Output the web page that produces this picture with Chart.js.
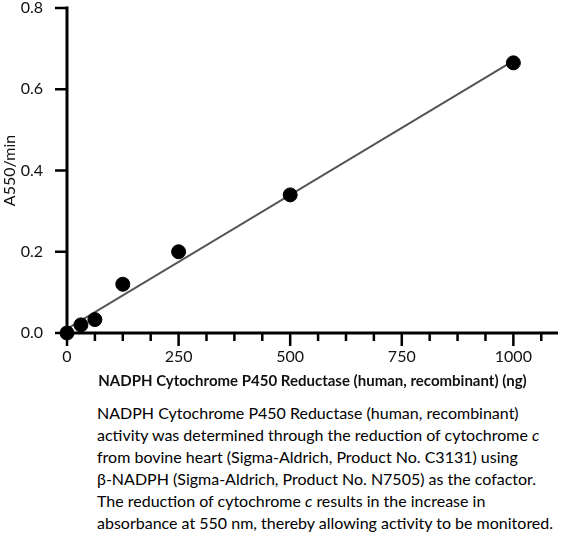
<!DOCTYPE html>
<html>
<head>
<meta charset="utf-8">
<script src="https://cdn.jsdelivr.net/npm/chart.js@4"></script>
<style>
  body { margin: 0; background: #fff; font-family: Lato, "Open Sans", sans-serif; }
  #wrap { position: relative; width: 569px; height: 395px; }
  #caption { margin: 0; padding-left: 97px; padding-top: 7px; font-size: 16px; line-height: 22px; color: #000; white-space: nowrap; }
</style>
</head>
<body>
<div id="wrap"><canvas id="chart"></canvas></div>
<p id="caption">
NADPH Cytochrome P450 Reductase (human, recombinant)<br>
activity was determined through the reduction of cytochrome <i>c</i><br>
from bovine heart (Sigma-Aldrich, Product No. C3131) using<br>
β-NADPH (Sigma-Aldrich, Product No. N7505) as the cofactor.<br>
The reduction of cytochrome <i>c</i> results in the increase in<br>
absorbance at 550 nm, thereby allowing activity to be monitored.
</p>
<script>
// enzyme amount (ng) and measured rate (A550/min)
var amounts = [0, 31.25, 62.5, 125, 250, 500, 1000];
var rates = [0, 0.02, 0.033, 0.12, 0.2, 0.34, 0.665];
// linear fit line, end points
var fitX = [0, 1000];
var fitY = [0.01, 0.67];
var xLabels = [0, 250, 500, 750, 1000];
var xMinorStep = 62.5;
var yLabels = [0, 0.2, 0.4, 0.6, 0.8];

var ctx = document.getElementById('chart').getContext('2d');

// draws axis lines and tick marks (major ticks longer than minor ones)
var axisPlugin = {
	id: 'axes',
	afterDatasetsDraw(chart) {
		var c = chart.ctx, xs = chart.scales.x, ys = chart.scales.y;
		var a = chart.chartArea;
		c.save();
		c.strokeStyle = '#000';
		c.lineWidth = 3;
		c.beginPath();
		c.moveTo(a.left, ys.getPixelForValue(0.8) - 1.5);
		c.lineTo(a.left, a.bottom);
		c.moveTo(a.left, a.bottom);
		c.lineTo(a.right, a.bottom);
		c.stroke();
		c.lineWidth = 2.5;
		c.beginPath();
		xs.ticks.forEach(t => {
			var px = xs.getPixelForValue(t.value);
			var major = xLabels.indexOf(t.value) >= 0;
			c.moveTo(px, a.bottom);
			c.lineTo(px, a.bottom + (major ? 13 : 8));
		});
		ys.ticks.forEach(t => {
			var py = ys.getPixelForValue(t.value);
			c.moveTo(a.left, py);
			c.lineTo(a.left - 12, py);
		});
		c.stroke();
		c.restore();
	}
};

var pts = amounts.map((v, i) => ({x: v, y: rates[i]}));
var fit = fitX.map((v, i) => ({x: v, y: fitY[i]}));

new Chart(ctx, {
	type: 'scatter',
	data: {
		datasets: [{
			data: fit,
			showLine: true,
			borderColor: '#555',
			borderWidth: 2,
			pointRadius: 0,
			order: 2
		}, {
			data: pts,
			backgroundColor: '#000',
			borderColor: '#000',
			pointRadius: 7,
			clip: false,
			order: 1
		}]
	},
	plugins: [axisPlugin],
	options: {
		responsive: true,
		maintainAspectRatio: false,
		animation: false,
		layout: { padding: { top: 6, right: 11, left: 0, bottom: 0 } },
		plugins: { legend: { display: false }, tooltip: { enabled: false } },
		scales: {
			x: {
				type: 'linear',
				min: 0,
				max: 1100,
				afterBuildTicks: s => {
					var t = [];
					for (var v = 0; v <= 1062.5; v += xMinorStep) t.push({value: v});
					s.ticks = t;
				},
				afterFit: s => { s.height = 62; s.paddingLeft = 0; s.paddingRight = 0; },
				grid: { drawOnChartArea: false, color: 'rgba(0,0,0,0)', tickLength: 13 },
				border: { display: false },
				ticks: {
					autoSkip: false,
					maxRotation: 0,
					padding: 1,
					color: '#111',
					font: { family: 'Lato', size: 16 },
					callback: v => xLabels.indexOf(v) >= 0 ? String(v) : ''
				},
				title: {
					display: true,
					text: 'NADPH Cytochrome P450 Reductase (human, recombinant) (ng)',
					color: '#111',
					font: { family: 'Lato', size: 15, weight: 'bold' },
					padding: { top: 0, bottom: 5 }
				}
			},
			y: {
				min: 0,
				max: 0.8,
				afterBuildTicks: s => { s.ticks = yLabels.map(v => ({value: v})); },
				afterFit: s => { s.width = 67; s.paddingTop = 0; s.paddingBottom = 0; },
				grid: { drawOnChartArea: false, color: 'rgba(0,0,0,0)', tickLength: 12 },
				border: { display: false },
				ticks: {
					padding: 12,
					color: '#111',
					font: { family: 'Lato', size: 16 },
					callback: v => v.toFixed(1)
				},
				title: {
					display: true,
					text: 'A550/min',
					color: '#111',
					font: { family: 'Lato', size: 16 },
					padding: { top: 0, bottom: 0 }
				}
			}
		}
	}
});
</script>
</body>
</html>
